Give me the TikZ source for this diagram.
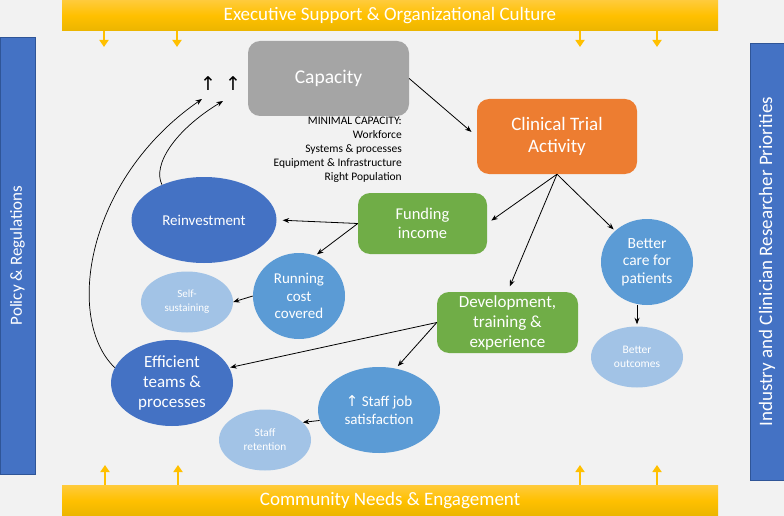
\documentclass[tikz,border=0pt]{standalone}
\usepackage{fontspec}
\setmainfont{Carlito}
\newfontfamily\symf{DejaVu Sans}
\usetikzlibrary{arrows.meta,shapes.geometric,calc}
\definecolor{bgc}{HTML}{F2F2F2}
\definecolor{gold}{HTML}{FFC000}
\definecolor{goldtop}{HTML}{FFCB3C}
\definecolor{goldbot}{HTML}{EBB500}
\definecolor{dblue}{HTML}{4472C4}
\definecolor{dblueb}{HTML}{2F5597}
\definecolor{mblue}{HTML}{5B9BD5}
\definecolor{lblue}{HTML}{A2C3E6}
\definecolor{grayc}{HTML}{A5A5A5}
\definecolor{orangec}{HTML}{ED7D31}
\definecolor{greenc}{HTML}{70AD47}
\tikzset{
  hbar/.style={rectangle, inner sep=0pt, top color=goldtop, bottom color=goldbot, middle color=gold,
    minimum width=656pt, minimum height=31pt, text=white, font=\fontsize{19}{22}\selectfont},
  vbar/.style={rectangle, inner sep=0pt, fill=dblue, draw=dblueb, line width=0.8pt, rotate=90,
    minimum width=437pt, text=white},
  yarrow/.style={draw=gold, line width=2.8pt, -{Triangle[length=7pt,width=9pt]}},
  rbox/.style={rectangle, rounded corners=12pt, inner sep=0pt, text=white, align=center},
  ell/.style={ellipse, inner sep=0pt, text=white, align=center},
  conn/.style={draw=black, line width=0.8pt, -{Stealth[length=6.5pt,width=5pt]}},
  curv/.style={draw=black, line width=0.7pt, -{Stealth[length=6.5pt,width=5pt]}},
}
\begin{document}
\begin{tikzpicture}[x=1pt,y=-1pt]
\fill[bgc] (0,0) rectangle (784,516);
\useasboundingbox (0,0) rectangle (784,516);

% frame bars
\node[hbar] (exec) at (390,15.5) {Executive Support \& Organizational Culture};
\node[hbar] (comm) at (390,500.5) {Community Needs \& Engagement};
\node[vbar, minimum height=35pt, font=\fontsize{17}{20}\selectfont] (pol) at (17.5,255.5) {Policy \& Regulations};
\node[vbar, minimum height=34pt, font=\fontsize{19}{22}\selectfont] (ind) at (767,261.5) {Industry and Clinician Researcher Priorities};

% yellow arrows
\coordinate (ta) at (104,47);
\coordinate (tb) at (177,47);
\coordinate (tc) at (580,47);
\coordinate (td) at (657,47);
\coordinate (ba) at (105,465);
\coordinate (bb) at (178,465);
\coordinate (bc) at (580,465);
\coordinate (bd) at (657,465);
\foreach \p in {ta,tb,tc,td}{\draw[yarrow] (exec.south -| \p) -- (\p);}
\foreach \p in {ba,bb,bc,bd}{\draw[yarrow] (comm.north -| \p) -- (\p);}

% main nodes
\node[rbox, fill=grayc, minimum width=161pt, minimum height=75pt, font=\fontsize{19.5}{24}\selectfont] (cap) at (328.5,78.5) {Capacity};
\node[anchor=north east, align=right, inner sep=0pt, font=\fontsize{11.5}{14}\selectfont] (mincap) at (402,117)
  {MINIMAL CAPACITY:\\Workforce\\Systems \& processes\\Equipment \& Infrastructure\\Right Population};
\node[rbox, fill=orangec, minimum width=160pt, minimum height=75pt, font=\fontsize{19}{22}\selectfont] (clin) at (557,136.5) {Clinical Trial\\Activity};
\node[rbox, fill=greenc, minimum width=129pt, minimum height=61pt, font=\fontsize{16.5}{19.5}\selectfont] (fund) at (422.5,223.5) {Funding\\income};
\node[rbox, fill=greenc, minimum width=141pt, minimum height=61pt, font=\fontsize{17}{20}\selectfont] (dev) at (507.5,322.5) {Development,\\training \&\\experience};

\node[ell, fill=dblue, minimum width=145pt, minimum height=86pt, font=\fontsize{15}{19}\selectfont] (reinv) at (204,220) {Reinvestment};
\node[ell, fill=mblue, minimum width=92pt, minimum height=86pt, font=\fontsize{15}{17.7}\selectfont] (run) at (299,296) {Running\\cost\\covered};
\node[ell, fill=lblue, minimum width=92pt, minimum height=61pt, font=\fontsize{11}{14}\selectfont] (self) at (187,302) {Self-\\sustaining};
\node[ell, fill=dblue, minimum width=122pt, minimum height=86pt, font=\fontsize{17}{20}\selectfont] (eff) at (172,383) {Efficient\\teams \&\\processes};
\node[ell, fill=mblue, minimum width=122pt, minimum height=86pt, font=\fontsize{15}{17.7}\selectfont] (staff) at (379,410) {{\symf\fontsize{15}{17}\selectfont ↑} Staff job\\satisfaction};
\node[ell, fill=lblue, minimum width=92pt, minimum height=61pt, font=\fontsize{11.3}{14}\selectfont] (sret) at (265,440) {Staff\\retention};
\node[ell, fill=mblue, minimum width=92pt, minimum height=86pt, font=\fontsize{15.5}{17.7}\selectfont] (care) at (647,262) {Better\\care for\\patients};
\node[ell, fill=lblue, minimum width=92pt, minimum height=61pt, font=\fontsize{11.5}{14}\selectfont] (bout) at (637,357) {Better\\outcomes};

% up-arrow glyphs
\node[font=\symf\fontsize{19}{22}\selectfont, inner sep=0pt] (upa) at (208,84) {↑};
\node[font=\symf\fontsize{19}{22}\selectfont, inner sep=0pt] (upb) at (233,84) {↑};
\coordinate (ea) at (202,99);
\coordinate (eb) at (223,101);

% connectors
\draw[conn, shorten >=7pt] (cap.east) -- (clin.west);
\draw[conn, shorten >=5pt] (clin.south) -- (fund.east);
\draw[conn, shorten >=6pt] (clin.south) -- (dev.north);
\draw[conn, shorten >=2pt] (clin.south) -- (care);
\draw[conn, shorten >=2pt] (care.south -| bout.north) -- (bout.north);
\draw[conn, shorten >=6pt] (fund.west) -- (reinv.east);
\draw[conn, shorten >=2pt] (fund.west) -- (run.68);
\draw[conn] (run.west) -- (self.east);
\draw[conn, shorten >=1pt] (dev.west) -- (eff.15);
\draw[conn, shorten >=3pt] (dev.west) -- (staff.68);
\draw[conn] (staff.190) -- (sret.25);
\draw[curv] (eff.165) .. controls (65,320) and (85,180) .. (ea);
\draw[curv] (reinv.140) .. controls (152,165) and (175,130) .. (eb);
\end{tikzpicture}
\end{document}
